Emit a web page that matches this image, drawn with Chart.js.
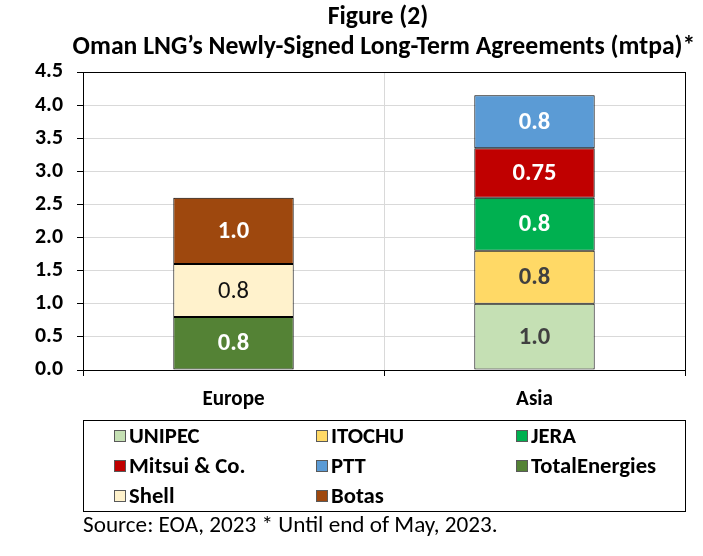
<!DOCTYPE html>
<html>
<head>
<meta charset="utf-8">
<script src="https://cdn.jsdelivr.net/npm/chart.js@4.4.1/dist/chart.umd.min.js"></script>
<style>
  html, body { margin: 0; padding: 0; background: #ffffff; }
  #wrap { width: 703px; height: 556px; position: relative; }
</style>
</head>
<body>
<div id="wrap"><canvas id="c" width="703" height="556"></canvas></div>
<script>
// ---- Data ----
const categories = ["Europe", "Asia"];
const seriesNames = ["UNIPEC", "ITOCHU", "JERA", "Mitsui & Co.", "PTT", "TotalEnergies", "Shell", "Botas"];
const unipec        = [null, 1.0];
const itochu        = [null, 0.8];
const jera          = [null, 0.8];
const mitsui        = [null, 0.75];
const ptt           = [null, 0.8];
const totalEnergies = [0.8, null];
const shell         = [0.8, null];
const botas         = [1.0, null];
const yTicks = [0.0, 0.5, 1.0, 1.5, 2.0, 2.5, 3.0, 3.5, 4.0, 4.5];
const titleLines = ["Figure (2)", "Oman LNG\u2019s Newly-Signed Long-Term Agreements (mtpa)*"];
const sourceText = "Source: EOA, 2023 * Until end of May, 2023.";

// ---- Styles ----
const FONT = "Carlito, Calibri, Lato, 'Liberation Sans', sans-serif";
const colors = ["#C5E0B4", "#FFD966", "#00B050", "#C00000", "#5B9BD5", "#548235", "#FFF2CC", "#9E480E"];
const labelColors = ["#404040", "#404040", "#ffffff", "#ffffff", "#ffffff", "#ffffff", "#111111", "#ffffff"];
const labelBold = [true, true, true, true, true, true, false, true];
const allValues = [unipec, itochu, jera, mitsui, ptt, totalEnergies, shell, botas];

// font size so that a sample string has the reference's pixel width
const _m = document.createElement("canvas").getContext("2d");
function fitSize(sample, weight, targetWidth) {
  _m.font = weight + " 100px " + FONT;
  return Math.round(1000 * targetWidth / _m.measureText(sample).width) / 10;
}
const titleSize  = fitSize(titleLines[1], "bold", 624);
const yTickSize  = fitSize("4.5", "bold", 28);
const xTickSize  = fitSize("Europe", "bold", 62);
const legendSize = fitSize("TotalEnergies", "bold", 125);
const sourceSize = fitSize(sourceText, "normal", 414);
const valueSize  = fitSize("0.75", "bold", 44);

const datasets = seriesNames.map((name, i) => ({
  label: name,
  data: allValues[i],
  backgroundColor: colors[i],
  borderColor: "#000000",
  borderWidth: 1,
  borderSkipped: false,
  barPercentage: 0.4,
  categoryPercentage: 1.0
}));

function fmt(v) {
  return Number.isInteger(Math.round(v * 100) / 10) ? v.toFixed(1) : String(v);
}

const drawPlugin = {
  id: "custom",
  afterDatasetsDraw(chart) {
    const ctx = chart.ctx;
    const a = chart.chartArea;
    ctx.save();
    ctx.strokeStyle = "#000000";
    ctx.lineWidth = 1;
    ctx.strokeRect(Math.round(a.left) + 0.5, Math.round(a.top) + 0.5, Math.round(a.right - a.left), Math.round(a.bottom - a.top));
    ctx.textAlign = "center";
    ctx.textBaseline = "middle";
    chart.data.datasets.forEach((ds, i) => {
      const meta = chart.getDatasetMeta(i);
      meta.data.forEach((el, j) => {
        const v = ds.data[j];
        if (v === null || v === undefined) return;
        ctx.fillStyle = labelColors[i];
        ctx.font = (labelBold[i] ? "bold " : "") + valueSize + "px " + FONT;
        ctx.fillText(fmt(v), el.x, (el.y + el.base) / 2 + 1);
      });
    });
    ctx.restore();
  },
  afterDraw(chart) {
    const ctx = chart.ctx;
    ctx.save();
    ctx.fillStyle = "#000000";
    ctx.textAlign = "center";
    ctx.textBaseline = "middle";
    ctx.font = "bold " + titleSize + "px " + FONT;
    ctx.fillText(titleLines[0], 378, 18);
    ctx.fillText(titleLines[1], 384, 48);
    const bx = 83, by = 420, bw = 602, bh = 91;
    ctx.strokeStyle = "#000000";
    ctx.lineWidth = 1;
    ctx.strokeRect(bx + 0.5, by + 0.5, bw, bh);
    const colX = [114, 316, 516];
    const rowY = [436, 466, 496];
    ctx.textAlign = "left";
    ctx.font = "bold " + legendSize + "px " + FONT;
    chart.data.datasets.forEach((ds, i) => {
      const x = colX[i % 3], y = rowY[Math.floor(i / 3)];
      ctx.fillStyle = ds.backgroundColor;
      ctx.fillRect(x, y - 6, 12, 12);
      ctx.strokeStyle = "#595959";
      ctx.strokeRect(x + 0.5, y - 5.5, 11, 11);
      ctx.fillStyle = "#000000";
      ctx.fillText(ds.label, x + 15, y + 1);
    });
    ctx.font = sourceSize + "px " + FONT;
    ctx.fillText(sourceText, 83, 526);
    ctx.restore();
  }
};

new Chart(document.getElementById("c"), {
  type: "bar",
  data: { labels: categories, datasets },
  plugins: [drawPlugin],
  options: {
    responsive: false,
    animation: false,
    devicePixelRatio: 1,
    layout: { padding: { left: 0, right: 18, top: 72, bottom: 0 } },
    plugins: { legend: { display: false }, title: { display: false }, tooltip: { enabled: false } },
    scales: {
      x: {
        stacked: true,
        grid: { color: "#D9D9D9", tickColor: "#000000", tickLength: 6, offset: true, drawTicks: true },
        border: { color: "#000000" },
        ticks: { color: "#000000", font: { family: FONT, size: xTickSize, weight: "bold" }, padding: 11 },
        afterFit(s) { s.height = 186; }
      },
      y: {
        stacked: true,
        min: 0, max: 4.5,
        afterBuildTicks(s) { s.ticks = yTicks.map(v => ({ value: v })); },
        grid: { color: "#D9D9D9", tickColor: "#000000", tickLength: 6 },
        border: { color: "#000000" },
        ticks: { color: "#000000", font: { family: FONT, size: yTickSize, weight: "bold" }, padding: 14,
                 callback: (v) => Number(v).toFixed(1) },
        afterFit(s) { s.width = 83; }
      }
    }
  }
});
</script>
</body>
</html>
